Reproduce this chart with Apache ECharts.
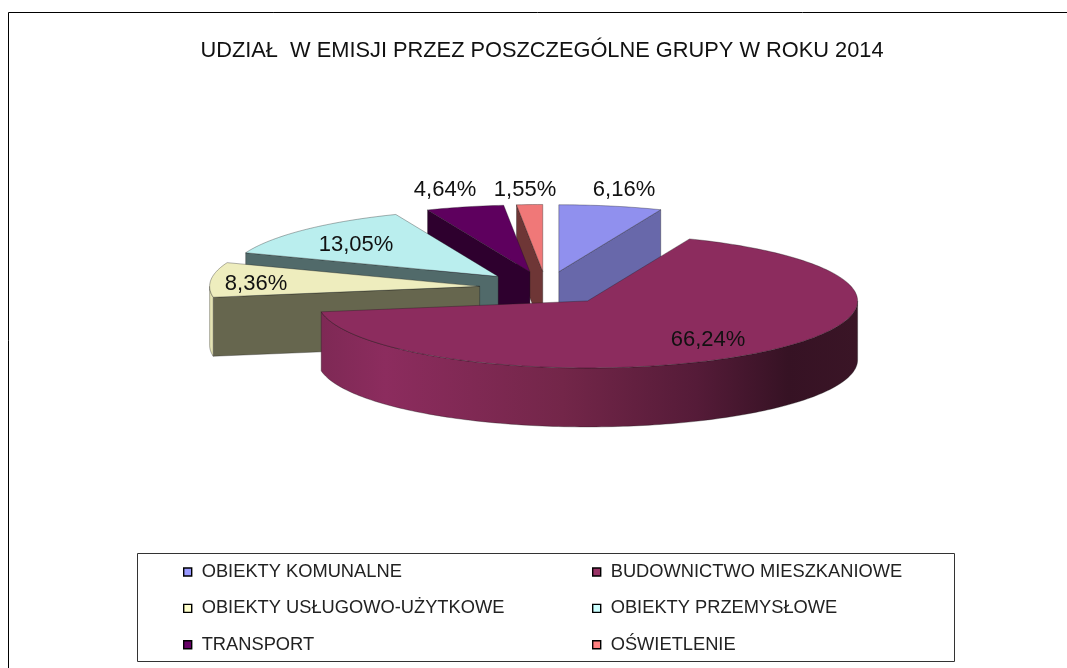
<!DOCTYPE html>
<html><head><meta charset="utf-8">
<style>html,body{margin:0;padding:0;background:#fff}#c{width:1067px;height:668px}</style>
<script src="https://cdn.jsdelivr.net/npm/echarts@6/dist/echarts.min.js"></script>
</head><body><div id="c"></div>
<script>
const titleText = 'UDZIAŁ  W EMISJI PRZEZ POSZCZEGÓLNE GRUPY W ROKU 2014';
const categories = ['OBIEKTY KOMUNALNE','BUDOWNICTWO MIESZKANIOWE','OBIEKTY USŁUGOWO-UŻYTKOWE','OBIEKTY PRZEMYSŁOWE','TRANSPORT','OŚWIETLENIE'];
const shares = [6.16,66.24,8.36,13.05,4.64,1.55];
const legendColors = ['#9999FF','#993366','#FFFFCC','#CCFFFF','#660066','#FF8080'];
const topColors = ['#9090EE','#8C2C5E','#EEEDBE','#BAEEEE','#5E005E','#F07878'];
const wallColors = ['#6868AA','#8C2C5E','#66664E','#516A6A','#2E002E','#6E3636'];
const rimColors = ['#6868AA','#8C2C5E','#E4E3B4','#516A6A','#2E002E','#6E3636'];
const labelPos = [[624,190],[708,340],[256,284],[356,245],[445,190],[525,190]];
const paintOrder = [0,5,4,3,2,1];

const CX=546, CY=288, RX=270, RY=67, DEPTH=59, EXPLODE=0.247;
const total = shares.reduce((a,b)=>a+b,0);
const starts = []; { let s=0; shares.forEach(v=>{starts.push(s); s+=v/total*Math.PI*2;}); }
const fmt = v => v.toFixed(2).replace('.',',')+'%';

function renderSlice(i){
  const a0=starts[i], a1=a0+shares[i]/total*Math.PI*2, mid=(a0+a1)/2;
  const ox=CX+EXPLODE*RX*Math.sin(mid), oy=CY-EXPLODE*RY*Math.cos(mid);
  const P=(t,d=0)=>[ox+RX*Math.sin(t), oy-RY*Math.cos(t)+d];
  const arc=(t0,t1,d=0)=>{const n=Math.max(2,Math.ceil(Math.abs(t1-t0)/0.02)),r=[];for(let k=0;k<=n;k++)r.push(P(t0+(t1-t0)*k/n,d));return r;};
  const edge='rgba(20,20,20,0.55)';
  const kids=[];
  const wall=(t)=>kids.push({type:'polygon',shape:{points:[[ox,oy],P(t),P(t,DEPTH),[ox,oy+DEPTH]]},style:{fill:wallColors[i],stroke:edge,lineWidth:0.6}});
  if(Math.sin(a0)<-1e-6) wall(a0);
  if(Math.sin(a1)>1e-6) wall(a1);
  const f0=Math.max(a0,Math.PI/2), f1=Math.min(a1,Math.PI*1.5);
  if(f1>f0){
    const pts=arc(f0,f1).concat(arc(f1,f0,DEPTH));
    const fill = i===1 ? {type:'linear',x:0,y:0,x2:1,y2:0,colorStops:[
      {offset:0,color:'#7E2955'},{offset:0.12,color:'#8C2C5E'},{offset:0.45,color:'#732649'},{offset:0.7,color:'#551B38'},{offset:0.87,color:'#361224'},{offset:1,color:'#3A1526'}]} : rimColors[i];
    kids.push({type:'polygon',shape:{points:pts},style:{fill,stroke:edge,lineWidth:0.6}});
  }
  const top=[[ox,oy]].concat(arc(a0,a1));
  kids.push({type:'polygon',shape:{points:top},style:{fill:topColors[i],stroke:edge,lineWidth:0.6}});
  kids.push({type:'text',style:{text:fmt(shares[i]),x:labelPos[i][0],y:labelPos[i][1],fill:'#111',font:'22px "Liberation Sans"',textAlign:'center',textVerticalAlign:'middle'}});
  return {type:'group',children:kids};
}
const series = paintOrder.map(i=>({
  type:'custom',name:categories[i],coordinateSystem:'none',silent:true,animation:false,
  itemStyle:{color:legendColors[i]},
  data:[[shares[i]]],
  renderItem:()=>renderSlice(i)
}));
const legendBase = {orient:'vertical',top:558,itemWidth:8,itemHeight:8,itemGap:18.4,icon:'rect',selectedMode:false,
  itemStyle:{borderColor:'#000',borderWidth:1.4},
  textStyle:{fontFamily:'Liberation Sans',fontSize:18.3,color:'#222',padding:[0,0,0,5]}};
const leg = idx => idx.map(i=>({name:categories[i],itemStyle:{color:legendColors[i],borderColor:'#000',borderWidth:1.4}}));
const chart = echarts.init(document.getElementById('c'),null,{renderer:'canvas'});
chart.setOption({
  backgroundColor:'#fff',animation:false,
  title:{text:titleText,left:537,top:35,textAlign:'center',textStyle:{fontFamily:'Liberation Sans',fontSize:21.8,fontWeight:'normal',color:'#111'}},
  legend:[Object.assign({},legendBase,{left:178,data:leg([0,2,4])}),Object.assign({},legendBase,{left:587,data:leg([1,3,5])})],
  graphic:[
    {type:'polyline',z:-1,shape:{points:[[8.5,668],[8.5,12.5],[1067,12.5]]},style:{fill:null,stroke:'#000',lineWidth:1}},
    {type:'rect',z:-1,shape:{x:137.5,y:553.5,width:817,height:108},style:{fill:'#fff',stroke:'#333',lineWidth:1}}
  ],
  series
});
</script></body></html>
